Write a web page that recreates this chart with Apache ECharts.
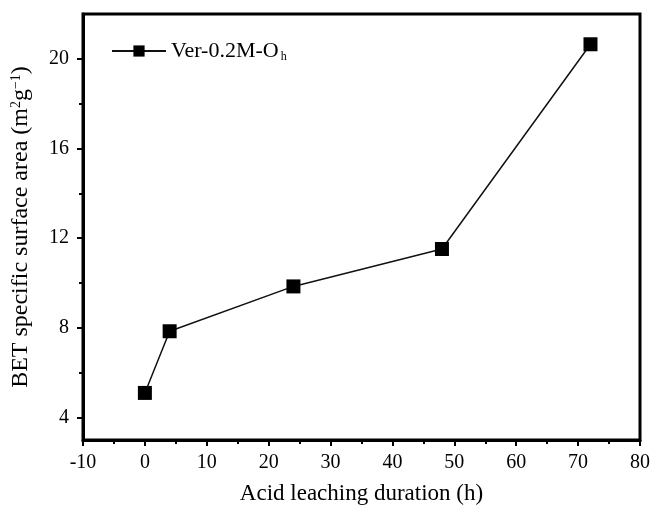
<!DOCTYPE html>
<html>
<head>
<meta charset="utf-8">
<script src="https://cdn.jsdelivr.net/npm/echarts@6/dist/echarts.min.js"></script>
<style>
  html, body { margin: 0; padding: 0; background: #fff; }
  #chart { width: 652px; height: 506px; }
</style>
</head>
<body>
<div id="chart"></div>
<script>
// Leaching time (h) and BET surface area (m2/g)
const leachHours = [0, 4, 24, 48, 72];
const surfaceArea = [5.1, 7.85, 9.85, 11.52, 20.65];
const yMajorTicks = [4, 8, 12, 16, 20];
const yMinorTicks = [6, 10, 14, 18];

const serif = 'Liberation Serif, Times New Roman, serif';
const chart = echarts.init(document.getElementById('chart'));

chart.setOption({
  animation: false,
  backgroundColor: '#fff',
  grid: {
    left: 83, right: 12, top: 14, bottom: 66,
    outerBoundsMode: 'none', containLabel: false,
    show: true, borderColor: '#000', borderWidth: 3, backgroundColor: 'transparent'
  },
  legend: {
    left: 106, top: 35,
    itemWidth: 54, itemHeight: 14, itemGap: 6,
    textStyle: {
      fontFamily: serif, fontSize: 22, color: '#000',
      rich: {
        n: { fontFamily: serif, fontSize: 22, color: '#000' },
        sub: { fontFamily: serif, fontSize: 12, color: '#000', verticalAlign: 'bottom', padding: [12, 0, 0, 2] }
      }
    },
    formatter: () => '{n|Ver-0.2M-O}{sub|h}',
    data: ['Ver-0.2M-Oh']
  },
  xAxis: {
    type: 'value', min: -10, max: 80, interval: 10,
    name: 'Acid leaching duration (h)', nameLocation: 'middle', nameGap: 42,
    nameTextStyle: { fontFamily: serif, fontSize: 23, color: '#000' },
    axisLine: { onZero: false, lineStyle: { color: '#000', width: 3 } },
    axisTick: { inside: false, length: 6, lineStyle: { color: '#000', width: 2 } },
    minorTick: { show: true, splitNumber: 2, length: 4, lineStyle: { color: '#000', width: 2 } },
    axisLabel: { fontFamily: serif, fontSize: 20, color: '#000', margin: 13 },
    splitLine: { show: false }
  },
  yAxis: [{
    type: 'value', min: 3, max: 22,
    name: '{a|BET specific surface area (m}{sup|2}{a|g}{sup|−1}{a|)}',
    nameLocation: 'middle', nameGap: 50,
    nameTextStyle: {
      fontFamily: serif, fontSize: 24, color: '#000',
      rich: {
        a: { fontFamily: serif, fontSize: 24, color: '#000' },
        sup: { fontFamily: serif, fontSize: 14, color: '#000', verticalAlign: 'top', padding: [0, 0, 10, 0] }
      }
    },
    axisLine: { show: true, onZero: false, lineStyle: { color: '#000', width: 3 } },
    axisTick: { show: true, inside: false, length: 6, customValues: yMajorTicks, lineStyle: { color: '#000', width: 2 } },
    axisLabel: { fontFamily: serif, fontSize: 20, color: '#000', margin: 14, customValues: yMajorTicks },
    splitLine: { show: false }
  }, {
    // short unlabelled ticks between the numbered ones
    type: 'value', min: 3, max: 22, position: 'left',
    axisLine: { show: false, onZero: false },
    axisTick: { show: true, inside: false, length: 4, customValues: yMinorTicks, lineStyle: { color: '#000', width: 2 } },
    axisLabel: { show: false },
    splitLine: { show: false }
  }],
  series: [{
    name: 'Ver-0.2M-Oh',
    type: 'line',
    data: leachHours.map((h, i) => [h, surfaceArea[i]]),
    symbol: 'rect', symbolSize: 14,
    itemStyle: { color: '#000' },
    lineStyle: { color: '#111', width: 1.5 }
  }]
});
</script>
</body>
</html>
